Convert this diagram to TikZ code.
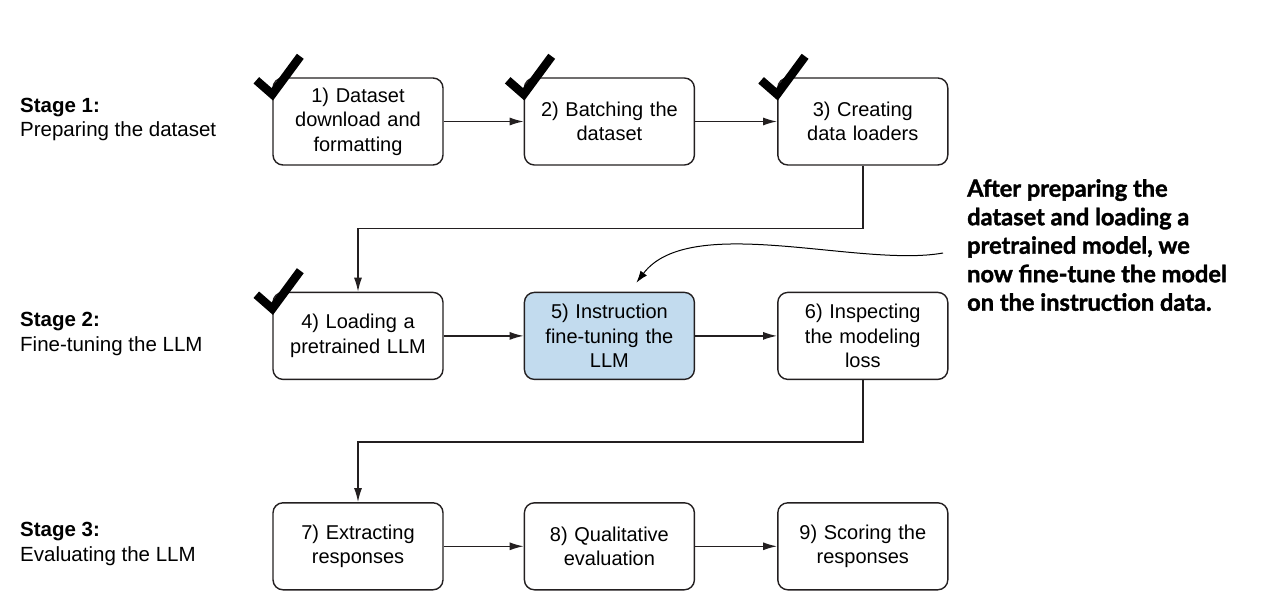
\documentclass[tikz,border=0pt]{standalone}
\usepackage{fontspec}
\setmainfont{Liberation Sans}
\newfontfamily\notefont{Lato}[BoldFeatures={FakeBold=1.6}]
\usetikzlibrary{positioning,arrows.meta}
\definecolor{boxline}{HTML}{231F20}
\definecolor{hilite}{HTML}{C2DBEE}
\tikzstyle{block} = [rectangle, draw=boxline, line width=1.4pt, fill=white,
    text width=150pt, align=center, rounded corners=10pt,
    minimum width=170pt, minimum height=87pt, inner sep=0pt,
    font=\fontsize{20}{24.5}\selectfont]
\tikzstyle{line} = [draw=boxline, line width=1.4pt, -{Latex[length=14pt,width=8pt]}]
\tikzstyle{stage} = [anchor=west, align=left, inner sep=0pt,
    font=\fontsize{20.5}{24.5}\selectfont]
\tikzstyle{tick} = [line width=8.5pt, line join=miter]

\begin{document}
\begin{tikzpicture}[x=1pt, y=-1pt, node distance=80pt]
		\useasboundingbox (0,0) rectangle (1282,612);
		% stage 1
		\node [block] (b1) at (358,121.5) {1) Dataset\\download and\\formatting};
		\node [block, right=80pt of b1] (b2) {2) Batching the\\dataset};
		\node [block, right=82pt of b2] (b3) {3) Creating\\data loaders};
		% stage 2
		\node [block, below=126pt of b1] (b4) {4) Loading a\\pretrained LLM};
		\node [block, fill=hilite, right=80pt of b4] (b5) {5) Instruction\\fine-tuning the\\LLM};
		\node [block, right=82pt of b5] (b6) {6) Inspecting\\the modeling\\loss};
		% stage 3
		\node [block, below=122pt of b4] (b7) {7) Extracting\\responses};
		\node [block, right=80pt of b7] (b8) {8) Qualitative\\evaluation};
		\node [block, right=82pt of b8] (b9) {9) Scoring the\\responses};

		\node [stage] (s1) at (20,119.5) {\textbf{Stage 1:}\\Preparing the dataset};
		\node [stage] (s2) at (20,334) {\textbf{Stage 2:}\\Fine-tuning the LLM};
		\node [stage] (s3) at (20,544) {\textbf{Stage 3:}\\Evaluating the LLM};

		\node [anchor=north west, align=left, inner sep=0pt,
			font=\notefont\bfseries\fontsize{23.6}{28.5}\selectfont] (note) at (967,179)
			{After preparing the\\dataset and loading a\\pretrained model, we\\now fine-tune the model\\on the instruction data.};

		\path [line] (b1) -- (b2);
		\path [line] (b2) -- (b3);
		\path [line] (b3.south) -- ++(0,63) -| (b4.north);
		\path [line] (b4) -- (b5);
		\path [line] (b5) -- (b6);
		\path [line] (b6.south) -- ++(0,62) -| (b7.north);
		\path [line] (b7) -- (b8);
		\path [line] (b8) -- (b9);

		\coordinate (notetail) at (943,253);
		\draw [line width=1pt, -{Latex[length=12pt,width=8pt]}] (notetail)
			.. controls (860,268) and (690,212) .. ([xshift=27pt,yshift=9pt]b5.north);

		% done marks
		\foreach \b in {b1,b2,b3,b4}
			\draw [tick, shift={(\b.north west)}] (-16,3) -- (0,17) -- (28,-21);
	\end{tikzpicture}
\end{document}
